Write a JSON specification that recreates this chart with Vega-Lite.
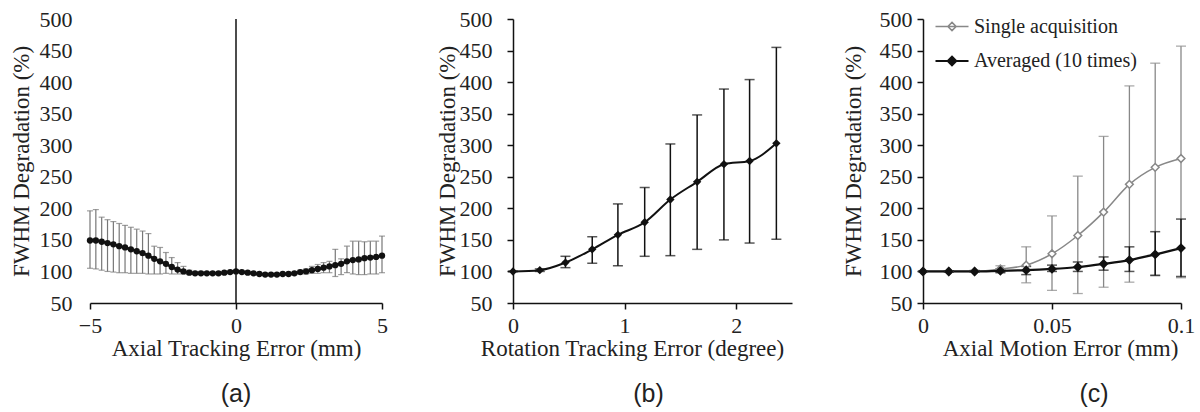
{
  "$schema": "https://vega.github.io/schema/vega-lite/v6.json",
  "background": "white",
  "padding": {"left": 10, "top": 8, "right": 2, "bottom": 0},
  "spacing": 131,
  "bounds": "flush",
  "config": {
    "view": {"stroke": null},
    "font": "Liberation Serif",
    "axis": {"grid": false, "domainColor": "#111", "domainWidth": 1.5, "tickColor": "#111", "tickWidth": 1.5, "tickSize": 6, "labelFont": "Liberation Serif", "labelFontSize": 22, "labelColor": "#222", "titleFont": "Liberation Serif", "titleFontSize": 23, "titleFontWeight": "normal", "titleColor": "#222", "labelFlush": false, "labelOverlap": false},
    "title": {"font": "Liberation Sans", "fontSize": 25, "fontWeight": "normal", "color": "#222"}
  },
  "datasets": {
    "a": [
      {"x": -5.0, "y": 149, "lo": 105, "hi": 196},
      {"x": -4.8, "y": 149, "lo": 104, "hi": 198},
      {"x": -4.6, "y": 147, "lo": 102, "hi": 186},
      {"x": -4.4, "y": 145, "lo": 100, "hi": 182},
      {"x": -4.2, "y": 143, "lo": 99, "hi": 179},
      {"x": -4.0, "y": 140, "lo": 98, "hi": 176},
      {"x": -3.8, "y": 138, "lo": 98, "hi": 173},
      {"x": -3.6, "y": 135, "lo": 97, "hi": 170},
      {"x": -3.4, "y": 132, "lo": 97, "hi": 167},
      {"x": -3.2, "y": 129, "lo": 97, "hi": 164},
      {"x": -3.0, "y": 125, "lo": 96, "hi": 160},
      {"x": -2.8, "y": 120, "lo": 96, "hi": 140},
      {"x": -2.6, "y": 116, "lo": 96, "hi": 138},
      {"x": -2.4, "y": 112, "lo": 97, "hi": 130},
      {"x": -2.2, "y": 107, "lo": 96, "hi": 122},
      {"x": -2.0, "y": 103, "lo": 96, "hi": 114},
      {"x": -1.8, "y": 100, "lo": 96, "hi": 108},
      {"x": -1.6, "y": 98, "lo": 95, "hi": 102},
      {"x": -1.4, "y": 97, "lo": 95, "hi": 100},
      {"x": -1.2, "y": 97, "lo": 95, "hi": 100},
      {"x": -1.0, "y": 97, "lo": 95, "hi": 99},
      {"x": -0.8, "y": 97, "lo": 95, "hi": 99},
      {"x": -0.6, "y": 97, "lo": 95, "hi": 99},
      {"x": -0.4, "y": 98, "lo": 96, "hi": 100},
      {"x": -0.2, "y": 99, "lo": 97, "hi": 101},
      {"x": 0.0, "y": 100, "lo": 98, "hi": 102},
      {"x": 0.2, "y": 99, "lo": 97, "hi": 101},
      {"x": 0.4, "y": 98, "lo": 96, "hi": 100},
      {"x": 0.6, "y": 97, "lo": 95, "hi": 99},
      {"x": 0.8, "y": 96, "lo": 94, "hi": 98},
      {"x": 1.0, "y": 95, "lo": 93, "hi": 97},
      {"x": 1.2, "y": 95, "lo": 93, "hi": 97},
      {"x": 1.4, "y": 95, "lo": 93, "hi": 97},
      {"x": 1.6, "y": 96, "lo": 94, "hi": 98},
      {"x": 1.8, "y": 96, "lo": 94, "hi": 98},
      {"x": 2.0, "y": 97, "lo": 95, "hi": 99},
      {"x": 2.2, "y": 99, "lo": 96, "hi": 102},
      {"x": 2.4, "y": 100, "lo": 96, "hi": 104},
      {"x": 2.6, "y": 102, "lo": 97, "hi": 108},
      {"x": 2.8, "y": 104, "lo": 97, "hi": 111},
      {"x": 3.0, "y": 106, "lo": 98, "hi": 114},
      {"x": 3.2, "y": 108, "lo": 98, "hi": 116},
      {"x": 3.4, "y": 110, "lo": 92, "hi": 135},
      {"x": 3.6, "y": 112, "lo": 95, "hi": 120},
      {"x": 3.8, "y": 116, "lo": 98, "hi": 140},
      {"x": 4.0, "y": 118, "lo": 96, "hi": 148},
      {"x": 4.2, "y": 119, "lo": 95, "hi": 148},
      {"x": 4.4, "y": 121, "lo": 95, "hi": 147},
      {"x": 4.6, "y": 122, "lo": 96, "hi": 148},
      {"x": 4.8, "y": 123, "lo": 96, "hi": 148},
      {"x": 5.0, "y": 125, "lo": 98, "hi": 156}
    ],
    "b": [
      {"x": 0, "y": 100, "lo": 100, "hi": 100},
      {"x": 0.24, "y": 102, "lo": 100, "hi": 104},
      {"x": 0.47, "y": 114, "lo": 106, "hi": 124},
      {"x": 0.71, "y": 135, "lo": 113, "hi": 155},
      {"x": 0.94, "y": 158, "lo": 109, "hi": 207},
      {"x": 1.18, "y": 178, "lo": 124, "hi": 233},
      {"x": 1.41, "y": 214, "lo": 125, "hi": 302},
      {"x": 1.65, "y": 242, "lo": 135, "hi": 348},
      {"x": 1.89, "y": 270, "lo": 150, "hi": 389},
      {"x": 2.12, "y": 275, "lo": 145, "hi": 404},
      {"x": 2.36, "y": 303, "lo": 151, "hi": 455}
    ],
    "c": [
      {"s": "Single acquisition", "x": 0, "y": 100, "lo": 100, "hi": 100},
      {"s": "Single acquisition", "x": 0.01, "y": 100, "lo": 99, "hi": 101},
      {"s": "Single acquisition", "x": 0.02, "y": 100, "lo": 99, "hi": 102},
      {"s": "Single acquisition", "x": 0.03, "y": 104, "lo": 99, "hi": 109},
      {"s": "Single acquisition", "x": 0.04, "y": 110, "lo": 82, "hi": 139},
      {"s": "Single acquisition", "x": 0.05, "y": 128, "lo": 70, "hi": 188},
      {"s": "Single acquisition", "x": 0.06, "y": 157, "lo": 65, "hi": 251},
      {"s": "Single acquisition", "x": 0.07, "y": 194, "lo": 75, "hi": 314},
      {"s": "Single acquisition", "x": 0.08, "y": 238, "lo": 83, "hi": 394},
      {"s": "Single acquisition", "x": 0.09, "y": 265, "lo": 93, "hi": 430},
      {"s": "Single acquisition", "x": 0.1, "y": 279, "lo": 90, "hi": 457},
      {"s": "Averaged (10 times)", "x": 0, "y": 100, "lo": 100, "hi": 100},
      {"s": "Averaged (10 times)", "x": 0.01, "y": 100, "lo": 99, "hi": 101},
      {"s": "Averaged (10 times)", "x": 0.02, "y": 100, "lo": 99, "hi": 101},
      {"s": "Averaged (10 times)", "x": 0.03, "y": 101, "lo": 98, "hi": 104},
      {"s": "Averaged (10 times)", "x": 0.04, "y": 102, "lo": 95, "hi": 108},
      {"s": "Averaged (10 times)", "x": 0.05, "y": 104, "lo": 100, "hi": 110},
      {"s": "Averaged (10 times)", "x": 0.06, "y": 107, "lo": 100, "hi": 115},
      {"s": "Averaged (10 times)", "x": 0.07, "y": 112, "lo": 102, "hi": 123},
      {"s": "Averaged (10 times)", "x": 0.08, "y": 118, "lo": 100, "hi": 139},
      {"s": "Averaged (10 times)", "x": 0.09, "y": 127, "lo": 94, "hi": 163},
      {"s": "Averaged (10 times)", "x": 0.1, "y": 137, "lo": 92, "hi": 183}
    ]
  },
  "hconcat": [
    {
      "width": 292,
      "height": 284,
      "data": {"name": "a"},
      "title": {"text": "(a)", "orient": "bottom", "frame": "group", "offset": 22},
      "encoding": {
        "x": {"field": "x", "type": "quantitative", "scale": {"domain": [-5, 5], "nice": false}, "axis": {"values": [-5, 0, 5], "format": "~g", "labelPadding": 6, "title": "Axial Tracking Error (mm)", "titlePadding": 1}}
      },
      "layer": [
        {
          "mark": {"type": "errorbar", "ticks": {"size": 6}, "color": "#777", "thickness": 1.2},
          "encoding": {
            "y": {"field": "lo", "type": "quantitative", "scale": {"domain": [50, 500], "nice": false, "zero": false}, "axis": {"values": [50, 100, 150, 200, 250, 300, 350, 400, 450, 500], "tickCount": 20, "labelOverlap": false, "domain": false, "ticks": false, "labelPadding": 18, "title": "FWHM Degradation (%)", "titlePadding": 6}},
            "y2": {"field": "hi"}
          }
        },
        {
          "mark": {"type": "line", "color": "#111", "strokeWidth": 2.5},
          "encoding": {"y": {"field": "y", "type": "quantitative"}}
        },
        {
          "mark": {"type": "point", "filled": true, "color": "#111", "size": 40, "opacity": 1},
          "encoding": {"y": {"field": "y", "type": "quantitative"}}
        },
        {
          "data": {"values": [{"x0": 0}]},
          "mark": {"type": "rule", "color": "#111", "strokeWidth": 1.5},
          "encoding": {"x": {"field": "x0", "type": "quantitative"}}
        }
      ]
    },
    {
      "width": 279,
      "height": 284,
      "data": {"name": "b"},
      "title": {"text": "(b)", "orient": "bottom", "frame": "group", "offset": 22, "dx": -4},
      "encoding": {
        "x": {"field": "x", "type": "quantitative", "scale": {"domain": [0, 2.5], "nice": false}, "axis": {"values": [0, 1, 2], "format": "~g", "labelPadding": 6, "title": "Rotation Tracking Error (degree)", "titlePadding": 1, "titleX": 119}}
      },
      "layer": [
        {
          "mark": {"type": "errorbar", "ticks": {"size": 10}, "color": "#111", "thickness": 1.5},
          "encoding": {
            "y": {"field": "lo", "type": "quantitative", "scale": {"domain": [50, 500], "nice": false, "zero": false}, "axis": {"values": [50, 100, 150, 200, 250, 300, 350, 400, 450, 500], "tickCount": 20, "labelOverlap": false, "labelPadding": 15, "title": "FWHM Degradation (%)", "titlePadding": 0}},
            "y2": {"field": "hi"}
          }
        },
        {
          "mark": {"type": "line", "color": "#111", "strokeWidth": 2, "interpolate": "monotone"},
          "encoding": {"y": {"field": "y", "type": "quantitative"}}
        },
        {
          "mark": {"type": "point", "shape": "diamond", "filled": true, "color": "#111", "size": 70, "opacity": 1},
          "encoding": {"y": {"field": "y", "type": "quantitative"}}
        }
      ]
    },
    {
      "width": 258,
      "height": 284,
      "data": {"name": "c"},
      "title": {"text": "(c)", "orient": "bottom", "frame": "group", "offset": 22, "dx": 42},
      "encoding": {
        "x": {"field": "x", "type": "quantitative", "scale": {"domain": [0, 0.1], "nice": false}, "axis": {"values": [0, 0.05, 0.1], "format": ".2~f", "labelPadding": 6, "title": "Axial Motion Error (mm)", "titlePadding": 1, "titleX": 137}}
      },
      "layer": [
        {
          "transform": [{"filter": "datum.s === 'Single acquisition'"}],
          "mark": {"type": "errorbar", "ticks": {"size": 10}, "thickness": 1.3, "color": "#888888"},
          "encoding": {
            "y": {"field": "lo", "type": "quantitative", "scale": {"domain": [50, 500], "nice": false, "zero": false}, "axis": {"values": [50, 100, 150, 200, 250, 300, 350, 400, 450, 500], "tickCount": 20, "labelOverlap": false, "labelPadding": 5, "title": "FWHM Degradation (%)", "titlePadding": 14}},
            "y2": {"field": "hi"}
          }
        },
        {
          "transform": [{"filter": "datum.s === 'Averaged (10 times)'"}],
          "mark": {"type": "errorbar", "ticks": {"size": 10}, "thickness": 1.5, "color": "#111111"},
          "encoding": {
            "y": {"field": "lo", "type": "quantitative", "axis": {"values": [50, 100, 150, 200, 250, 300, 350, 400, 450, 500], "tickCount": 20, "labelOverlap": false, "labelPadding": 5, "title": "FWHM Degradation (%)", "titlePadding": 14}},
            "y2": {"field": "hi"}
          }
        },
        {
          "mark": {"type": "line", "interpolate": "monotone"},
          "encoding": {
            "y": {"field": "y", "type": "quantitative", "axis": {"values": [50, 100, 150, 200, 250, 300, 350, 400, 450, 500], "tickCount": 20, "labelOverlap": false, "labelPadding": 5, "title": "FWHM Degradation (%)", "titlePadding": 14}},
            "stroke": {"field": "s", "type": "nominal", "scale": {"domain": ["Single acquisition", "Averaged (10 times)"], "range": ["#888888", "#111111"]}},
            "strokeWidth": {"field": "s", "type": "nominal", "scale": {"domain": ["Single acquisition", "Averaged (10 times)"], "range": [1.5, 2.2]}, "legend": null}
          }
        },
        {
          "mark": {"type": "point", "shape": "diamond", "size": 60, "opacity": 1, "strokeWidth": 1.5},
          "encoding": {
            "y": {"field": "y", "type": "quantitative", "axis": {"values": [50, 100, 150, 200, 250, 300, 350, 400, 450, 500], "tickCount": 20, "labelOverlap": false, "labelPadding": 5, "title": "FWHM Degradation (%)", "titlePadding": 14}},
            "fill": {"field": "s", "type": "nominal", "scale": {"domain": ["Single acquisition", "Averaged (10 times)"], "range": ["#ffffff", "#111111"]}, "legend": {"title": null, "orient": "none", "legendX": 844, "legendY": -10, "symbolType": "M-1,0L1,0M0,-0.25L0.25,0L0,0.25L-0.25,0Z", "symbolSize": 1089, "symbolStrokeWidth": 1.5, "symbolOpacity": 1, "labelFont": "Liberation Serif", "labelFontSize": 20, "labelColor": "#222", "labelOffset": 4, "rowPadding": 6, "labelLimit": 300}},
            "stroke": {"field": "s", "type": "nominal", "legend": {"title": null, "orient": "none", "legendX": 844, "legendY": -10, "symbolType": "M-1,0L1,0M0,-0.25L0.25,0L0,0.25L-0.25,0Z", "symbolSize": 1089, "symbolStrokeWidth": 1.5, "symbolOpacity": 1, "labelFont": "Liberation Serif", "labelFontSize": 20, "labelColor": "#222", "labelOffset": 4, "rowPadding": 6, "labelLimit": 300}}
          }
        }
      ]
    }
  ]
}
